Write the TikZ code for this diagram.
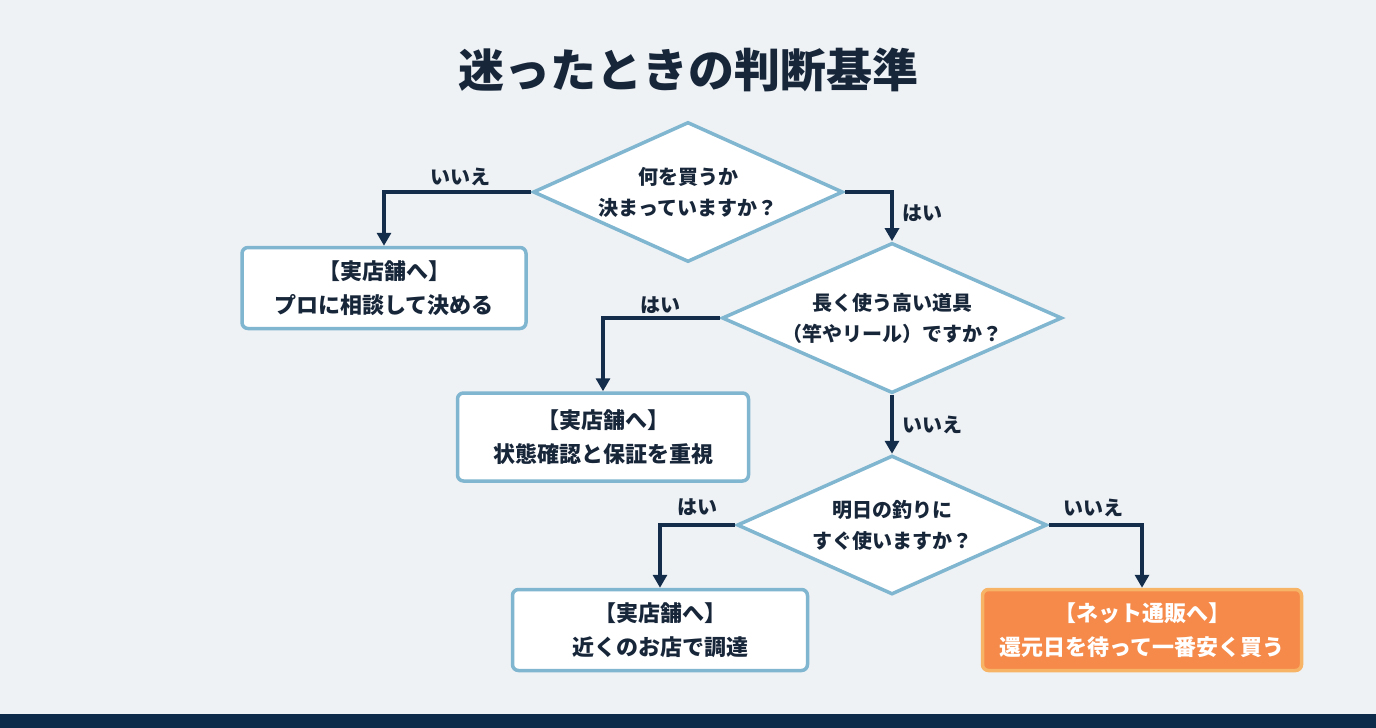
\documentclass[tikz,border=0pt]{standalone}
\usepackage{fontspec}
\setmainfont{Noto Sans CJK JP}
\usepackage{xcolor}
\usetikzlibrary{shapes.geometric, arrows.meta, positioning, calc}
\definecolor{bgpaper}{RGB}{238,242,245}
\definecolor{navyband}{RGB}{12,42,74}
\definecolor{inkdark}{RGB}{24,38,58}
\definecolor{linenavy}{RGB}{20,45,75}
\definecolor{edgeblue}{RGB}{128,182,208}
\definecolor{netorange}{RGB}{245,138,74}
\definecolor{netedge}{RGB}{248,180,102}
\tikzset{
  quest/.style={diamond, draw=edgeblue, fill=white, line width=3.5pt,
    text=inkdark, font=\fontsize{20}{31}\selectfont\bfseries, align=center,
    inner sep=0pt, aspect=2.2},
  shopbox/.style={rectangle, rounded corners=6pt, draw=edgeblue, fill=white,
    line width=3.5pt, text=inkdark, font=\fontsize{22}{34}\selectfont\bfseries,
    align=center, minimum height=81pt},
  netbox/.style={shopbox, draw=netedge, fill=netorange, text=white},
  arr/.style={-{Triangle[length=13pt, width=14pt]}, line width=3.2pt, color=linenavy},
  lbl/.style={font=\fontsize{20}{24}\selectfont\bfseries, text=inkdark},
}

\begin{document}
\begin{tikzpicture}[x=1pt, y=-1pt]
  \fill[bgpaper] (0,0) rectangle (1376,728);
  \fill[navyband] (0,714) rectangle (1376,728);
  \useasboundingbox (0,0) rectangle (1376,728);

  \node[font=\fontsize{46}{50}\selectfont\bfseries, text=inkdark] (title) at (688,70)
        {迷ったときの判断基準};

  % questions
  \node[quest, minimum width=310pt, minimum height=140pt] (q1) at (688,192)
        {何を買うか\\決まっていますか？};
  \node[quest, minimum width=340pt, minimum height=140pt] (q2) at (892,318)
        {長く使う高い道具\\（竿やリール）ですか？};
  \node[quest, minimum width=310pt, minimum height=139pt] (q3) at (892,525)
        {明日の釣りに\\すぐ使いますか？};

  % answers
  \node[shopbox, minimum width=284pt] (shop1) at (384,288)
        {【実店舗へ】\\プロに相談して決める};
  \node[shopbox, minimum width=291pt, minimum height=88pt] (shop2) at (603,437)
        {【実店舗へ】\\状態確認と保証を重視};
  \node[shopbox, minimum width=295pt] (shop3) at (660,630)
        {【実店舗へ】\\近くのお店で調達};
  \node[netbox, minimum width=319pt] (net) at (1142,630)
        {【ネット通販へ】\\還元日を待って一番安く買う};

  \draw[arr] (q1.west) -| (shop1.north);
  \draw[arr] (q1.east) -| (q2.north);
  \draw[arr] (q2.west) -| (shop2.north);
  \draw[arr] (q2.south) -- (q3.north);
  \draw[arr] (q3.west) -| (shop3.north);
  \draw[arr] (q3.east) -| (net.north);

  \node[lbl] (no1)  at (460,177) {いいえ};
  \node[lbl] (yes1) at (922,213) {はい};
  \node[lbl] (yes2) at (660,305) {はい};
  \node[lbl] (no2)  at (932,425) {いいえ};
  \node[lbl] (yes3) at (697,507) {はい};
  \node[lbl] (no3)  at (1093,508) {いいえ};
\end{tikzpicture}
\end{document}
